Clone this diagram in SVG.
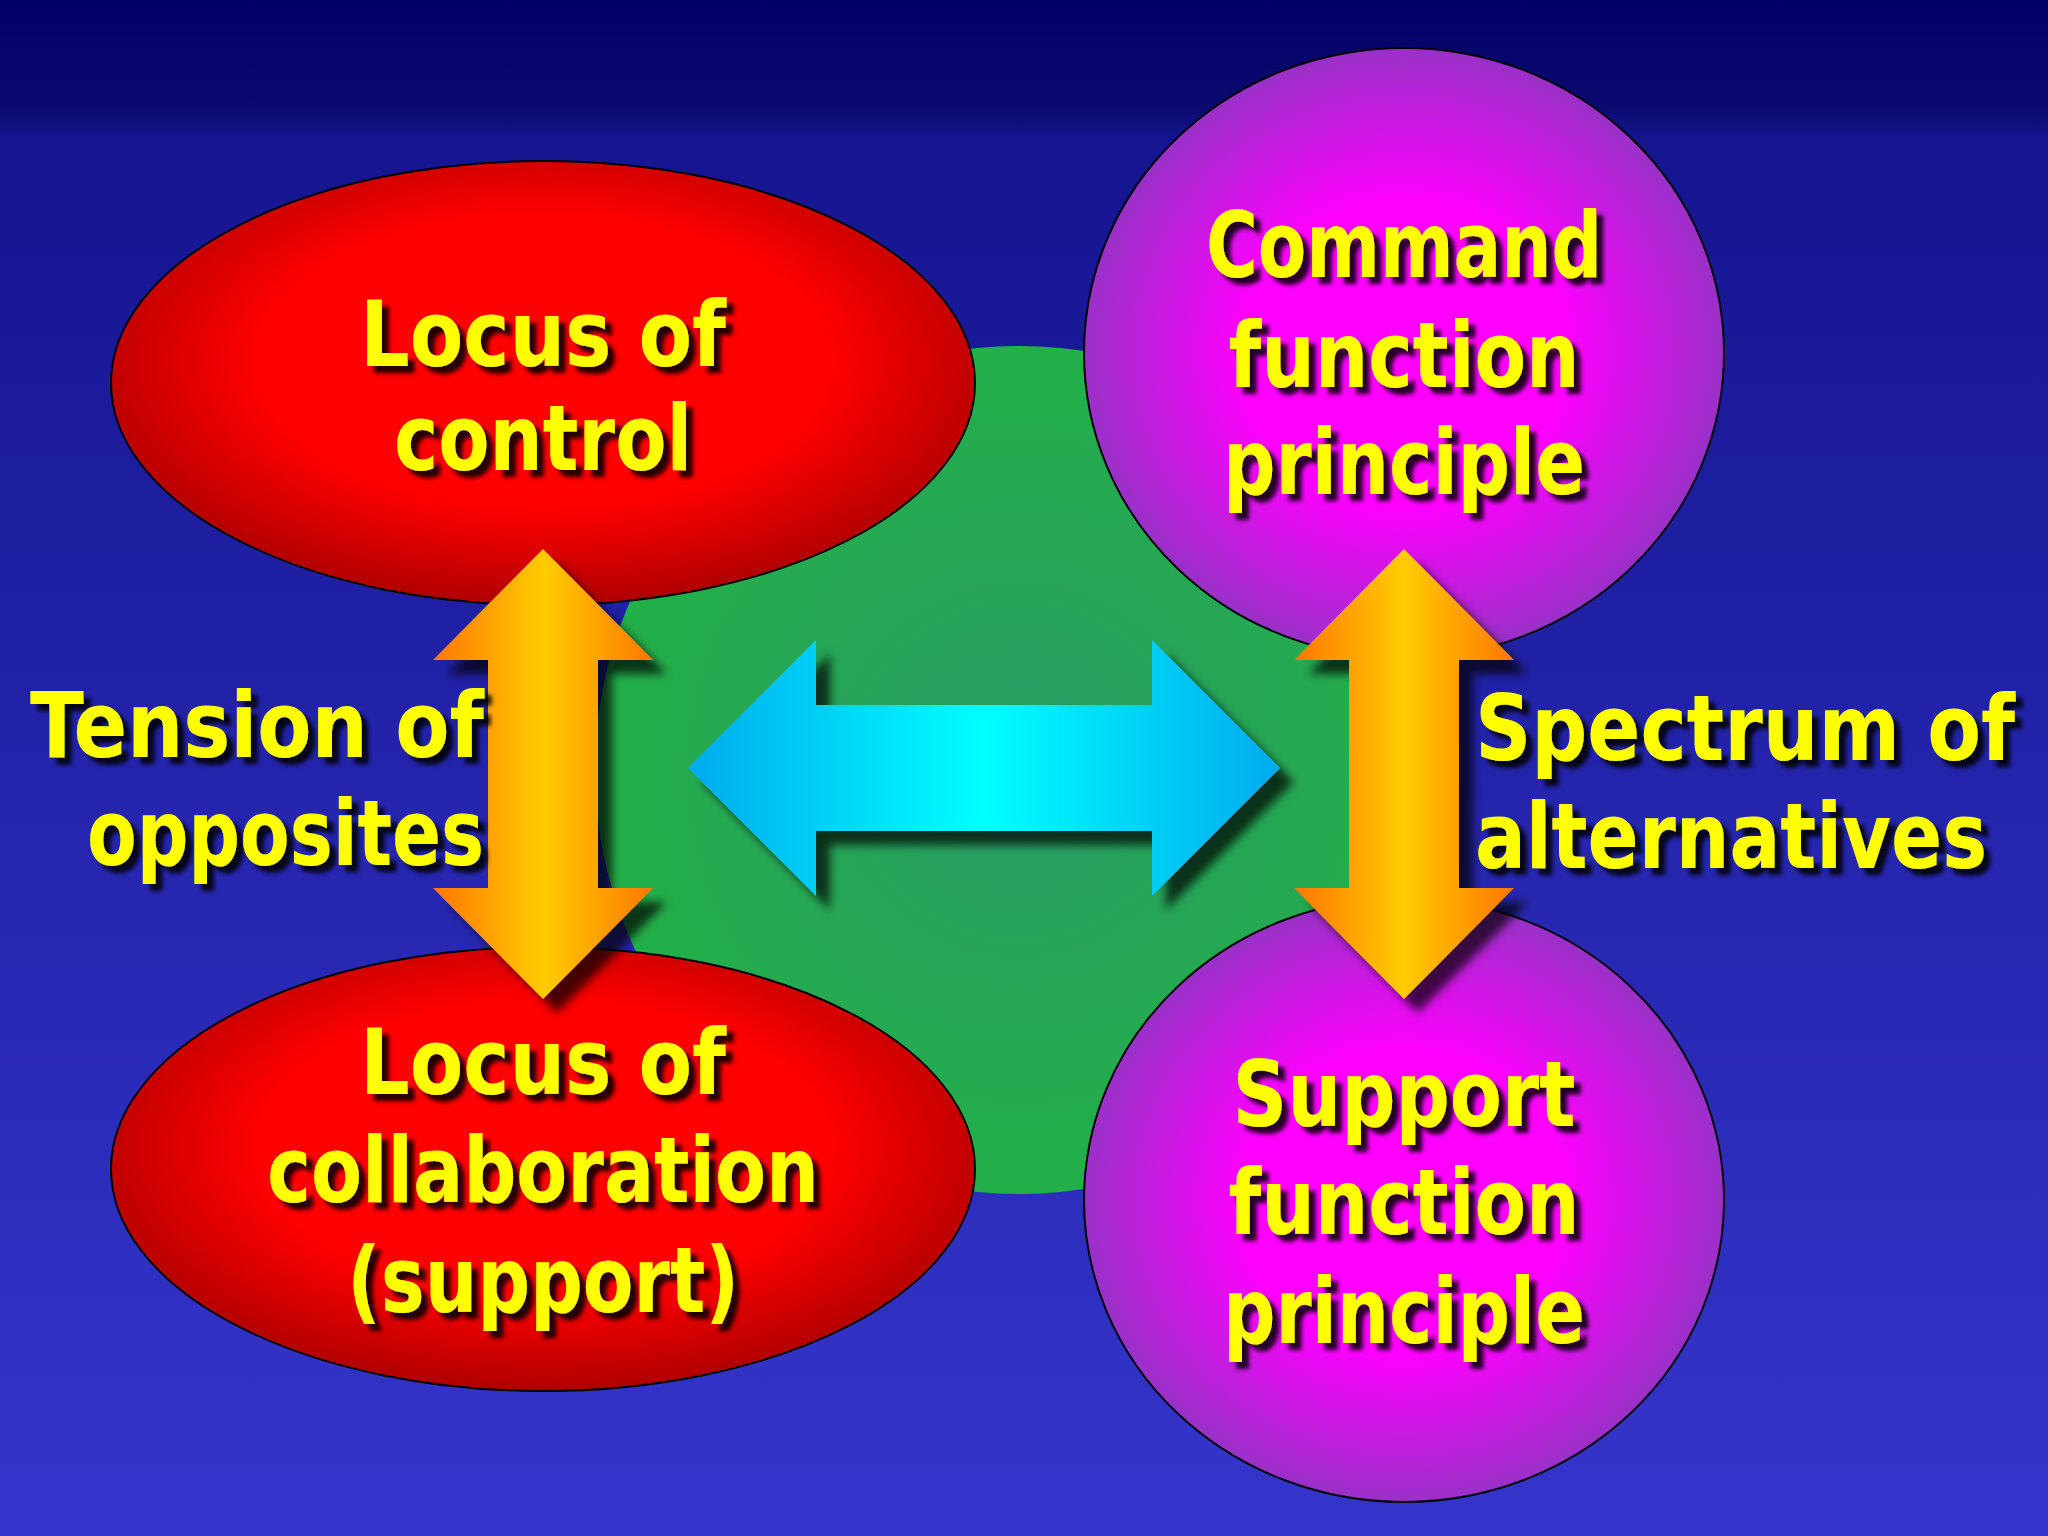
<svg xmlns="http://www.w3.org/2000/svg" width="2048" height="1536" viewBox="0 0 2048 1536">
<defs>
<linearGradient id="bg" x1="0" y1="0" x2="0" y2="1">
<stop offset="0" stop-color="#000066"/><stop offset="0.07" stop-color="#0a0a70"/><stop offset="0.09" stop-color="#151590"/><stop offset="1" stop-color="#3535cc"/>
</linearGradient>
<radialGradient id="red" cx="0.5" cy="0.45" r="0.55"><stop offset="0.6" stop-color="#ff0000"/><stop offset="1" stop-color="#b00000"/></radialGradient>
<radialGradient id="mag" cx="0.5" cy="0.5" r="0.5"><stop offset="0.5" stop-color="#ff00ff"/><stop offset="1" stop-color="#9a30c8"/></radialGradient>
<radialGradient id="grn" cx="0.5" cy="0.5" r="0.5"><stop offset="0" stop-color="#2a9a66"/><stop offset="1" stop-color="#22b048"/></radialGradient>
<linearGradient id="org" x1="0" y1="0" x2="1" y2="0"><stop offset="0" stop-color="#ff7700"/><stop offset="0.5" stop-color="#ffcc00"/><stop offset="1" stop-color="#ff7700"/></linearGradient>
<linearGradient id="cyn" x1="0" y1="0" x2="1" y2="0"><stop offset="0" stop-color="#00aaee"/><stop offset="0.5" stop-color="#00ffff"/><stop offset="1" stop-color="#00aaee"/></linearGradient>
<filter id="sh" x="-10%" y="-10%" width="130%" height="130%"><feDropShadow dx="14" dy="14" stdDeviation="5" flood-color="#000" flood-opacity="0.7"/></filter>
<filter id="tsh" x="-10%" y="-20%" width="130%" height="150%"><feDropShadow dx="7" dy="7" stdDeviation="2" flood-color="#000" flood-opacity="0.85"/></filter>
<style>
text{font-family:"DejaVu Sans",sans-serif;font-weight:bold;font-size:90px;fill:#ffff00;filter:url(#tsh)}
.c{text-anchor:middle}
.n{stroke:#000;stroke-width:2}
</style>
</defs>
<rect width="2048" height="1536" fill="url(#bg)"/>
<g id="center"><circle cx="1019" cy="770" r="424" fill="url(#grn)"/></g>
<g id="n1"><ellipse class="n" cx="543" cy="383" rx="432" ry="222" fill="url(#red)"/>
<text class="c" x="543" y="366" textLength="366" lengthAdjust="spacingAndGlyphs">Locus of</text>
<text class="c" x="543" y="470" textLength="298" lengthAdjust="spacingAndGlyphs">control</text></g>
<g id="n2"><ellipse class="n" cx="543" cy="1169" rx="432" ry="222" fill="url(#red)"/>
<text class="c" x="543" y="1094" textLength="366" lengthAdjust="spacingAndGlyphs">Locus of</text>
<text class="c" x="543" y="1202" textLength="552" lengthAdjust="spacingAndGlyphs">collaboration</text>
<text class="c" x="543" y="1312" textLength="392" lengthAdjust="spacingAndGlyphs">(support)</text></g>
<g id="n3"><ellipse class="n" cx="1404" cy="353" rx="320" ry="305" fill="url(#mag)"/>
<text class="c" x="1404" y="277" textLength="396" lengthAdjust="spacingAndGlyphs">Command</text>
<text class="c" x="1404" y="387" textLength="351" lengthAdjust="spacingAndGlyphs">function</text>
<text class="c" x="1404" y="494" textLength="362" lengthAdjust="spacingAndGlyphs">principle</text></g>
<g id="n4"><ellipse class="n" cx="1404" cy="1200" rx="320" ry="302" fill="url(#mag)"/>
<text class="c" x="1404" y="1126" textLength="343" lengthAdjust="spacingAndGlyphs">Support</text>
<text class="c" x="1404" y="1234" textLength="351" lengthAdjust="spacingAndGlyphs">function</text>
<text class="c" x="1404" y="1343" textLength="362" lengthAdjust="spacingAndGlyphs">principle</text></g>
<g id="connectors" filter="url(#sh)">
<polygon fill="url(#org)" points="543,549 653,660 598,660 598,888 653,888 543,999 433,888 488,888 488,660 433,660"/>
<polygon fill="url(#org)" points="1404,549 1514,660 1459,660 1459,888 1514,888 1404,999 1294,888 1349,888 1349,660 1294,660"/>
<polygon fill="url(#cyn)" points="688,768 816,640 816,705 1152,705 1152,640 1280,768 1152,896 1152,831 816,831 816,896"/>
</g>
<g id="labels">
<text x="484" y="757" text-anchor="end" textLength="454" lengthAdjust="spacingAndGlyphs">Tension of</text>
<text x="484" y="865" text-anchor="end" textLength="397" lengthAdjust="spacingAndGlyphs">opposites</text>
<text x="1475" y="760" textLength="540" lengthAdjust="spacingAndGlyphs">Spectrum of</text>
<text x="1475" y="868" textLength="512" lengthAdjust="spacingAndGlyphs">alternatives</text>
</g>
</svg>
